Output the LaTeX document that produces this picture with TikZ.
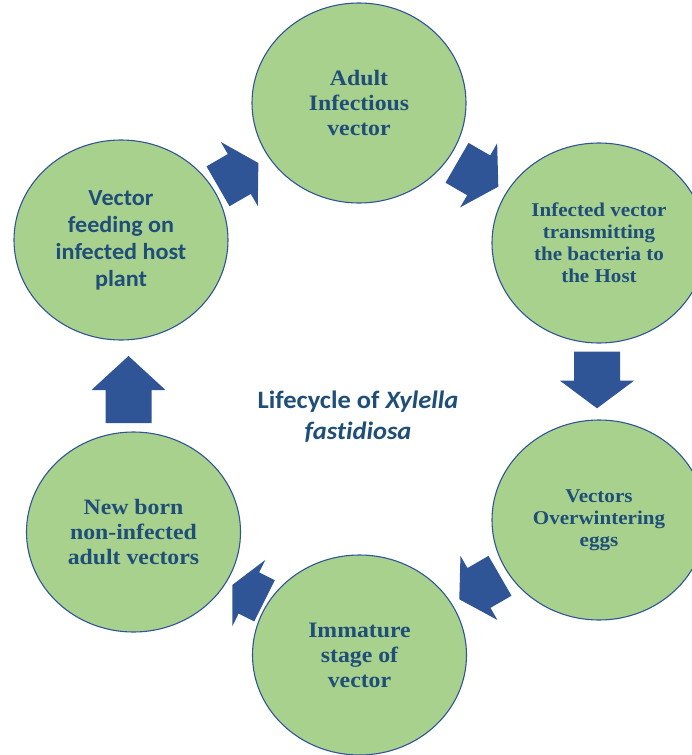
\documentclass[tikz,border=0pt]{standalone}
\usepackage{fontspec}
\setmainfont{Liberation Serif}
\newfontfamily\cyclefont[FakeStretch=1.08]{Liberation Serif}
\newfontfamily\feedfont[FakeStretch=1.05]{Carlito}
\newfontfamily\titlefont[FakeStretch=1.06, Ligatures=NoCommon]{Carlito}
\usetikzlibrary{shapes.geometric}
\definecolor{stagegreen}{HTML}{A9D18E}
\definecolor{cycleblue}{HTML}{2F5597}
\definecolor{labelblue}{HTML}{1F4E79}

\tikzset{
  stage/.style={ellipse, draw=cycleblue, line width=1.1pt, fill=stagegreen,
    minimum width=214pt, minimum height=200pt, inner sep=0pt, align=center,
    text=labelblue},
  bigserif/.style={font=\cyclefont\bfseries\fontsize{22}{25}\selectfont},
  smallserif/.style={font=\cyclefont\bfseries\fontsize{19.5}{22}\selectfont},
  sansstage/.style={font=\feedfont\bfseries\fontsize{23}{27}\selectfont},
  titletext/.style={text=labelblue, align=center,
    font=\titlefont\bfseries\fontsize{25}{31}\selectfont},
}

% block arrow: tail centre, direction, shaft length, head length
\newcommand\cyclearrow[4]{%
  \fill[cycleblue, shift={#1}, rotate=#2]
    (0,-23) -- (#3,-23) -- (#3,-37) -- ({#3+#4},0) -- (#3,37) -- (#3,23) -- (0,23) -- cycle;}

\begin{document}
\begin{tikzpicture}[x=1pt, y=-1pt]
  \useasboundingbox (0,0) rectangle (692,755);

  % stages of the cycle
  \node[stage, bigserif]   (adult)    at (359,103)   {Adult\\Infectious\\vector};
  \node[stage, smallserif] (transmit) at (599,243)   {Infected vector\\transmitting\\the bacteria to\\the Host};
  \node[stage, smallserif] (eggs)     at (599,520)   {Vectors\\Overwintering\\eggs};
  \node[stage, bigserif]   (immature) at (359.5,655) {Immature\\stage of\\vector};
  \node[stage, bigserif]   (newborn)  at (133.5,532) {New born\\non-infected\\adult vectors};
  \node[stage, sansstage]  (feeding)  at (121,240)   {Vector\\feeding on\\infected host\\plant};

  % arrows between the stages
  \cyclearrow{(218,186.3)}{30}{24.6}{22}
  \cyclearrow{(457,162.8)}{-30}{25}{22.7}
  \cyclearrow{(597,351.7)}{-90}{29}{27.6}
  \cyclearrow{(500,575.8)}{210}{24.3}{22.7}
  \cyclearrow{(264.5,600.8)}{153.5}{17.5}{18.3}
  \cyclearrow{(128.5,423)}{90}{33}{34}

  % title in the middle
  \node[titletext] (title) at (358,417) {Lifecycle of \textit{Xylella}\\\textit{fastidiosa}};
\end{tikzpicture}
\end{document}
